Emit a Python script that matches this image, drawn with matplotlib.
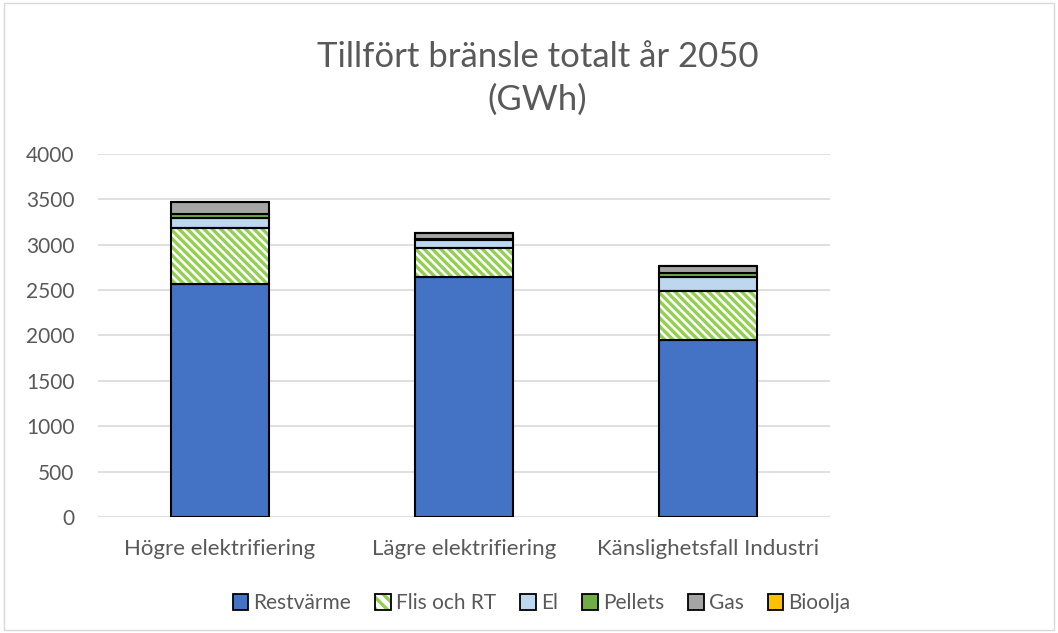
import numpy as np
import matplotlib
matplotlib.use("Agg")
import matplotlib.pyplot as plt
from matplotlib.patches import Patch, Rectangle
from matplotlib.legend_handler import HandlerTuple

plt.rcParams["font.family"] = ["Lato", "DejaVu Sans"]
plt.rcParams["hatch.linewidth"] = 2.4

categories = ["Högre elektrifiering", "Lägre elektrifiering", "Känslighetsfall Industri"]
series = ["Restvärme", "Flis och RT", "El", "Pellets", "Gas", "Bioolja"]
restvarme = [2565, 2645, 1955]
flis = [615, 315, 540]
el = [115, 95, 150]
pellets = [45, 10, 40]
gas = [135, 60, 85]
bioolja = [0, 0, 0]
values = [restvarme, flis, el, pellets, gas, bioolja]
colors = ["#4472C4", "#92D050", "#BDD7EE", "#70AD47", "#A5A5A5", "#FFC000"]
yticks = [0, 500, 1000, 1500, 2000, 2500, 3000, 3500, 4000]
hatch = "\\" * 4

fig = plt.figure(figsize=(10.58, 6.33), dpi=100)
ax = fig.add_axes([0.0926, 0.1833, 0.692, 0.5734])

x = np.arange(len(categories))
width = 0.4
bottom = np.zeros(len(categories))
for name, vals, col in zip(series, values, colors):
    vals = np.array(vals, dtype=float)
    if name == "Flis och RT":
        ax.bar(x, vals, width, bottom=bottom, color="white", edgecolor=col,
               hatch=hatch, linewidth=0, zorder=3)
        ax.bar(x, vals, width, bottom=bottom, fill=False, edgecolor="black",
               linewidth=1.5, zorder=4)
    else:
        ax.bar(x, vals, width, bottom=bottom, color=col, edgecolor="black",
               linewidth=1.5, zorder=3)
    bottom += vals

ax.set_ylim(0, 4000)
ax.set_xlim(-0.5, len(categories) - 0.5)
ax.set_yticks(yticks)
ax.yaxis.grid(True, color="#D9D9D9", linewidth=1.2, zorder=0)
ax.set_axisbelow(True)
for s in ax.spines.values():
    s.set_visible(False)
ax.tick_params(axis="both", length=0, labelsize=15, colors="#595959")
ax.tick_params(axis="x", pad=16, labelsize=16)
ax.tick_params(axis="y", pad=17)
ax.set_xticks(x)
ax.set_xticklabels(categories)

fig.text(0.508, 0.876, "Tillfört bränsle totalt år 2050\n(GWh)", ha="center", va="center",
         fontsize=25, color="#595959", linespacing=1.38)

handles = []
for name, col in zip(series, colors):
    if name == "Flis och RT":
        handles.append((Patch(facecolor="white", edgecolor=col, hatch="\\\\\\", linewidth=0),
                        Patch(fill=False, edgecolor="black", linewidth=1.3)))
    else:
        handles.append(Patch(facecolor=col, edgecolor="black", linewidth=1.3))
leg = fig.legend(handles=handles, labels=series, loc="center", bbox_to_anchor=(0.512, 0.047),
                 ncol=6, frameon=False, fontsize=15, handlelength=0.75, handleheight=0.75,
                 handletextpad=0.25, columnspacing=1.15,
                 handler_map={tuple: HandlerTuple(ndivide=1, pad=0)})
for t in leg.get_texts():
    t.set_color("#595959")

fig.patches.append(Rectangle((0.004, 0.004), 0.992, 0.992, transform=fig.transFigure,
                             fill=False, edgecolor="#D9D9D9", linewidth=1))

fig.savefig("out.png", dpi=100)
